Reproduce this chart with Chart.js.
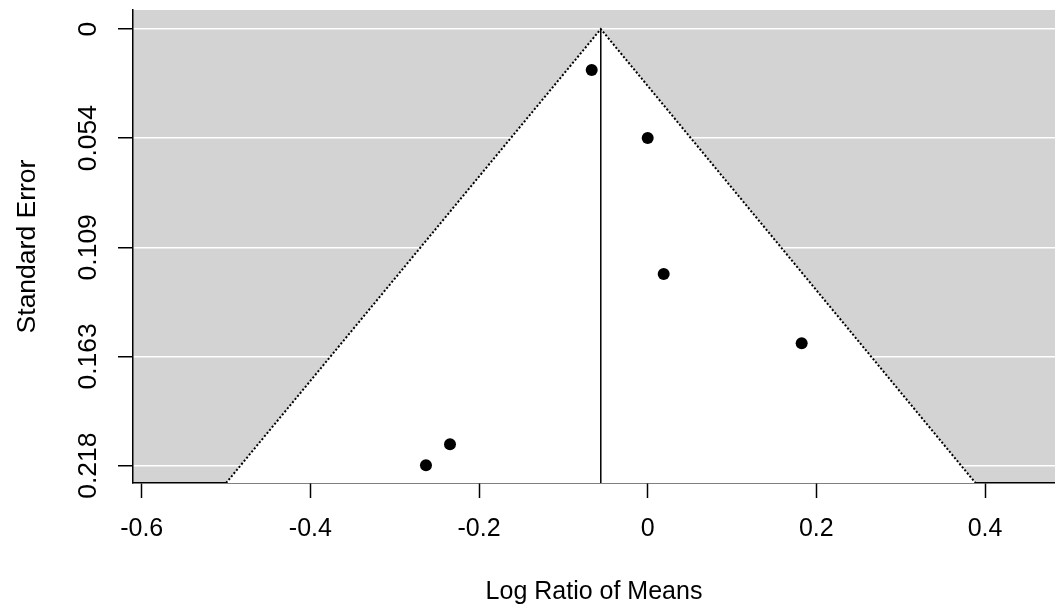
<!DOCTYPE html>
<html>
<head>
<meta charset="utf-8">
<script src="https://cdn.jsdelivr.net/npm/chart.js@4.4.1/dist/chart.umd.min.js"></script>
<style>
  html, body { margin: 0; padding: 0; background: #fff; }
  canvas { display: block; }
</style>
</head>
<body>
<canvas id="c" width="1055" height="610"></canvas>
<script>
// ---- data ----
const logRatio = [-0.0664, 0.0000, 0.0190, 0.1826, -0.2344, -0.2629];
const stdError = [0.0205, 0.0544, 0.1223, 0.1569, 0.2073, 0.2178];
const pooledEstimate = -0.0556;
const zCrit = 1.96;
const xTickValues = [-0.6, -0.4, -0.2, 0, 0.2, 0.4];
const xTickLabels = ['-0.6', '-0.4', '-0.2', '0', '0.2', '0.4'];
const yTickValues = [0, 0.0545, 0.109, 0.1635, 0.218];
const yTickLabels = ['0', '0.054', '0.109', '0.163', '0.218'];
const xMin = -0.6103, xMax = 0.483;
const yMin = -0.0095, yMax = 0.2267;

const points = logRatio.map((v, i) => ({ x: v, y: stdError[i] }));
const funnel = [
  { x: pooledEstimate - zCrit * yMax, y: yMax },
  { x: pooledEstimate, y: 0 },
  { x: pooledEstimate + zCrit * yMax, y: yMax }
];
const centerLine = [{ x: pooledEstimate, y: 0 }, { x: pooledEstimate, y: yMax }];

const FONT = 'Liberation Sans, Arial, sans-serif';

const bgPlugin = {
  id: 'bg',
  beforeDraw(chart) {
    const { ctx, chartArea: a } = chart;
    ctx.save();
    ctx.fillStyle = '#ffffff';
    ctx.fillRect(0, 0, chart.width, chart.height);
    ctx.fillStyle = '#D3D3D3';
    ctx.fillRect(a.left, a.top, a.right - a.left, a.bottom - a.top);
    ctx.restore();
  }
};

function zeroPad(s) {
  s.paddingLeft = 0; s.paddingRight = 0; s.paddingTop = 0; s.paddingBottom = 0;
}

new Chart(document.getElementById('c'), {
  type: 'scatter',
  data: {
    datasets: [
      {
        data: points,
        backgroundColor: '#000',
        borderColor: '#000',
        borderWidth: 0,
        pointRadius: 6,
        order: 1
      },
      {
        data: centerLine,
        showLine: true,
        borderColor: '#000',
        borderWidth: 1.5,
        pointRadius: 0,
        order: 2
      },
      {
        data: funnel,
        showLine: true,
        borderColor: '#000',
        borderWidth: 2,
        borderDash: [2, 2],
        pointRadius: 0,
        tension: 0,
        fill: { value: yMax },
        backgroundColor: '#ffffff',
        order: 3
      }
    ]
  },
  options: {
    responsive: false,
    animation: false,
    layout: { autoPadding: false, padding: { top: 10, left: 0, right: 0, bottom: 0 } },
    plugins: { legend: { display: false }, tooltip: { enabled: false } },
    scales: {
      x: {
        type: 'linear',
        min: xMin,
        max: xMax,
        afterBuildTicks: (s) => { s.ticks = xTickValues.map(v => ({ value: v })); },
        afterFit: (s) => { s.height = 127; zeroPad(s); },
        grid: {
          drawOnChartArea: false,
          drawTicks: true,
          tickLength: 15,
          tickColor: '#000',
          tickWidth: 1.5
        },
        border: { display: true, color: '#000', width: 1.5 },
        ticks: {
          autoSkip: false,
          maxRotation: 0,
          minRotation: 0,
          padding: 16,
          color: '#000',
          font: { family: FONT, size: 25 },
          callback: (v, i) => xTickLabels[i]
        },
        title: {
          display: true,
          text: 'Log Ratio of Means',
          color: '#000',
          font: { family: FONT, size: 25 },
          padding: { top: 0, bottom: 3 }
        }
      },
      y: {
        type: 'linear',
        reverse: true,
        min: yMin,
        max: yMax,
        afterBuildTicks: (s) => { s.ticks = yTickValues.map(v => ({ value: v })); },
        afterFit: (s) => { s.width = 133; zeroPad(s); },
        grid: {
          drawOnChartArea: true,
          color: '#ffffff',
          lineWidth: 1.5,
          drawTicks: true,
          tickLength: 15,
          tickColor: '#000',
          tickWidth: 1.5
        },
        border: { display: true, color: '#000', width: 1.5 },
        ticks: {
          autoSkip: false,
          minRotation: 90,
          maxRotation: 90,
          crossAlign: 'center',
          padding: -4,
          color: '#000',
          font: { family: FONT, size: 26.5 },
          callback: (v, i) => yTickLabels[i]
        },
        title: {
          display: true,
          text: 'Standard Error',
          color: '#000',
          font: { family: FONT, size: 26.5 },
          padding: { top: 12, bottom: 0 }
        }
      }
    }
  },
  plugins: [bgPlugin]
});
</script>
</body>
</html>
